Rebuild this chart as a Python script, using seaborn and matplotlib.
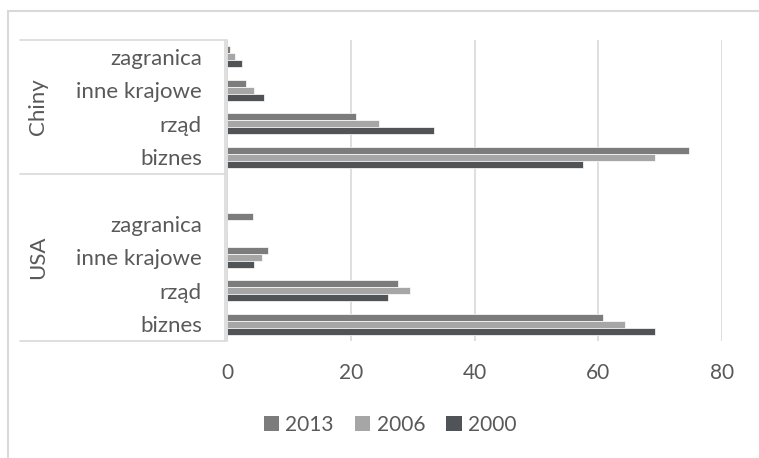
import matplotlib
matplotlib.use("Agg")
import matplotlib.pyplot as plt
from matplotlib.lines import Line2D
from matplotlib.patches import Patch
import matplotlib.transforms as mtransforms
import seaborn as sns
import pandas as pd

# Source data: share of R&D funding by source (%)
kraje = ["Chiny", "USA"]
kategorie = ["zagranica", "inne krajowe", "rząd", "biznes"]
lata = ["2013", "2006", "2000"]

chiny_2013 = [0.5, 3.1, 20.9, 74.7]
chiny_2006 = [1.3, 4.3, 24.5, 69.2]
chiny_2000 = [2.4, 6.0, 33.4, 57.6]

usa_2013 = [4.2, 6.7, 27.7, 60.8]
usa_2006 = [0.0, 5.6, 29.6, 64.3]
usa_2000 = [0.0, 4.4, 26.1, 69.1]

x_ticks = [0, 20, 40, 60, 80]

wartosci = {
    "Chiny": {"2013": chiny_2013, "2006": chiny_2006, "2000": chiny_2000},
    "USA": {"2013": usa_2013, "2006": usa_2006, "2000": usa_2000},
}

rows = []
for kraj in kraje:
    for rok in lata:
        for kat, v in zip(kategorie, wartosci[kraj][rok]):
            rows.append({"klucz": f"{kraj}|{kat}", "rok": rok, "wartosc": v})
df = pd.DataFrame(rows)

# Category slots top to bottom, with an empty slot leading the USA block
order = [f"Chiny|{k}" for k in kategorie] + ["USA|"] + [f"USA|{k}" for k in kategorie]
tick_labels = [k.split("|")[1] for k in order]

colors = {"2013": "#7c7c7c", "2006": "#a6a6a6", "2000": "#505458"}
text_color = "#595959"
line_color = "#d9d9d9"

sns.set_theme(style="white")
plt.rcParams["font.family"] = ["Lato", "DejaVu Sans"]

W, H = 759, 458
fig = plt.figure(figsize=(W / 100, H / 100), dpi=100)
left, right, top, bottom = 227, 722, 40, 341
ax = fig.add_axes([left / W, 1 - bottom / H, (right - left) / W, (bottom - top) / H])

sns.barplot(data=df, y="klucz", x="wartosc", hue="rok", order=order,
            hue_order=lata, palette=colors, orient="h", width=0.63,
            errorbar=None, edgecolor="white", linewidth=0.5, legend=False, ax=ax)

ax.set_xlim(0, 80)
ax.set_ylim(8.5, -0.5)
ax.set_xticks(x_ticks)
ax.set_xticklabels([str(t) for t in x_ticks])
ax.set_yticks(range(len(order)))
ax.set_yticklabels(tick_labels)
ax.set_xlabel("")
ax.set_ylabel("")
ax.tick_params(axis="both", length=0, colors=text_color)
ax.tick_params(axis="x", pad=16, labelsize=15)
ax.tick_params(axis="y", pad=18, labelsize=16)

ax.xaxis.grid(True, color=line_color, linewidth=1.2)
ax.set_axisbelow(True)
for side in ["top", "right", "bottom"]:
    ax.spines[side].set_visible(False)
ax.spines["left"].set_color(line_color)
ax.spines["left"].set_linewidth(1.2)

# Group boxes on the category axis
trans = mtransforms.blended_transform_factory(ax.transAxes, ax.transData)
x0 = (20 - left) / (right - left)
for yb in [-0.5, 3.5, 8.5]:
    ax.plot([x0, -0.004], [yb, yb], color=line_color, lw=1.2,
            transform=trans, clip_on=False)
ax.plot([-0.004, -0.004], [-0.5, 8.5], color=line_color, lw=1.2,
        transform=trans, clip_on=False)

xg = (38 - left) / (right - left)
ax.text(xg, 1.5, "Chiny", rotation=90, ha="center", va="center",
        color=text_color, fontsize=16, transform=trans)
ax.text(xg, 6.0, "USA", rotation=90, ha="center", va="center",
        color=text_color, fontsize=16, transform=trans)

# Chart frame
fig.add_artist(Line2D([7.5 / W, 1], [1 - 10.5 / H] * 2, color=line_color, lw=1.5))
fig.add_artist(Line2D([7.5 / W] * 2, [0, 1 - 10.5 / H], color=line_color, lw=1.5))

handles = [Patch(facecolor=colors[r], edgecolor="none", label=r) for r in lata]
fig.legend(handles=handles, loc="center", bbox_to_anchor=(390 / W, 1 - 425 / H),
           ncol=3, frameon=False, fontsize=15, labelcolor=text_color,
           handlelength=0.75, handleheight=0.75, handletextpad=0.3,
           columnspacing=1.0)

fig.savefig("out.png", dpi=100, facecolor="white")
